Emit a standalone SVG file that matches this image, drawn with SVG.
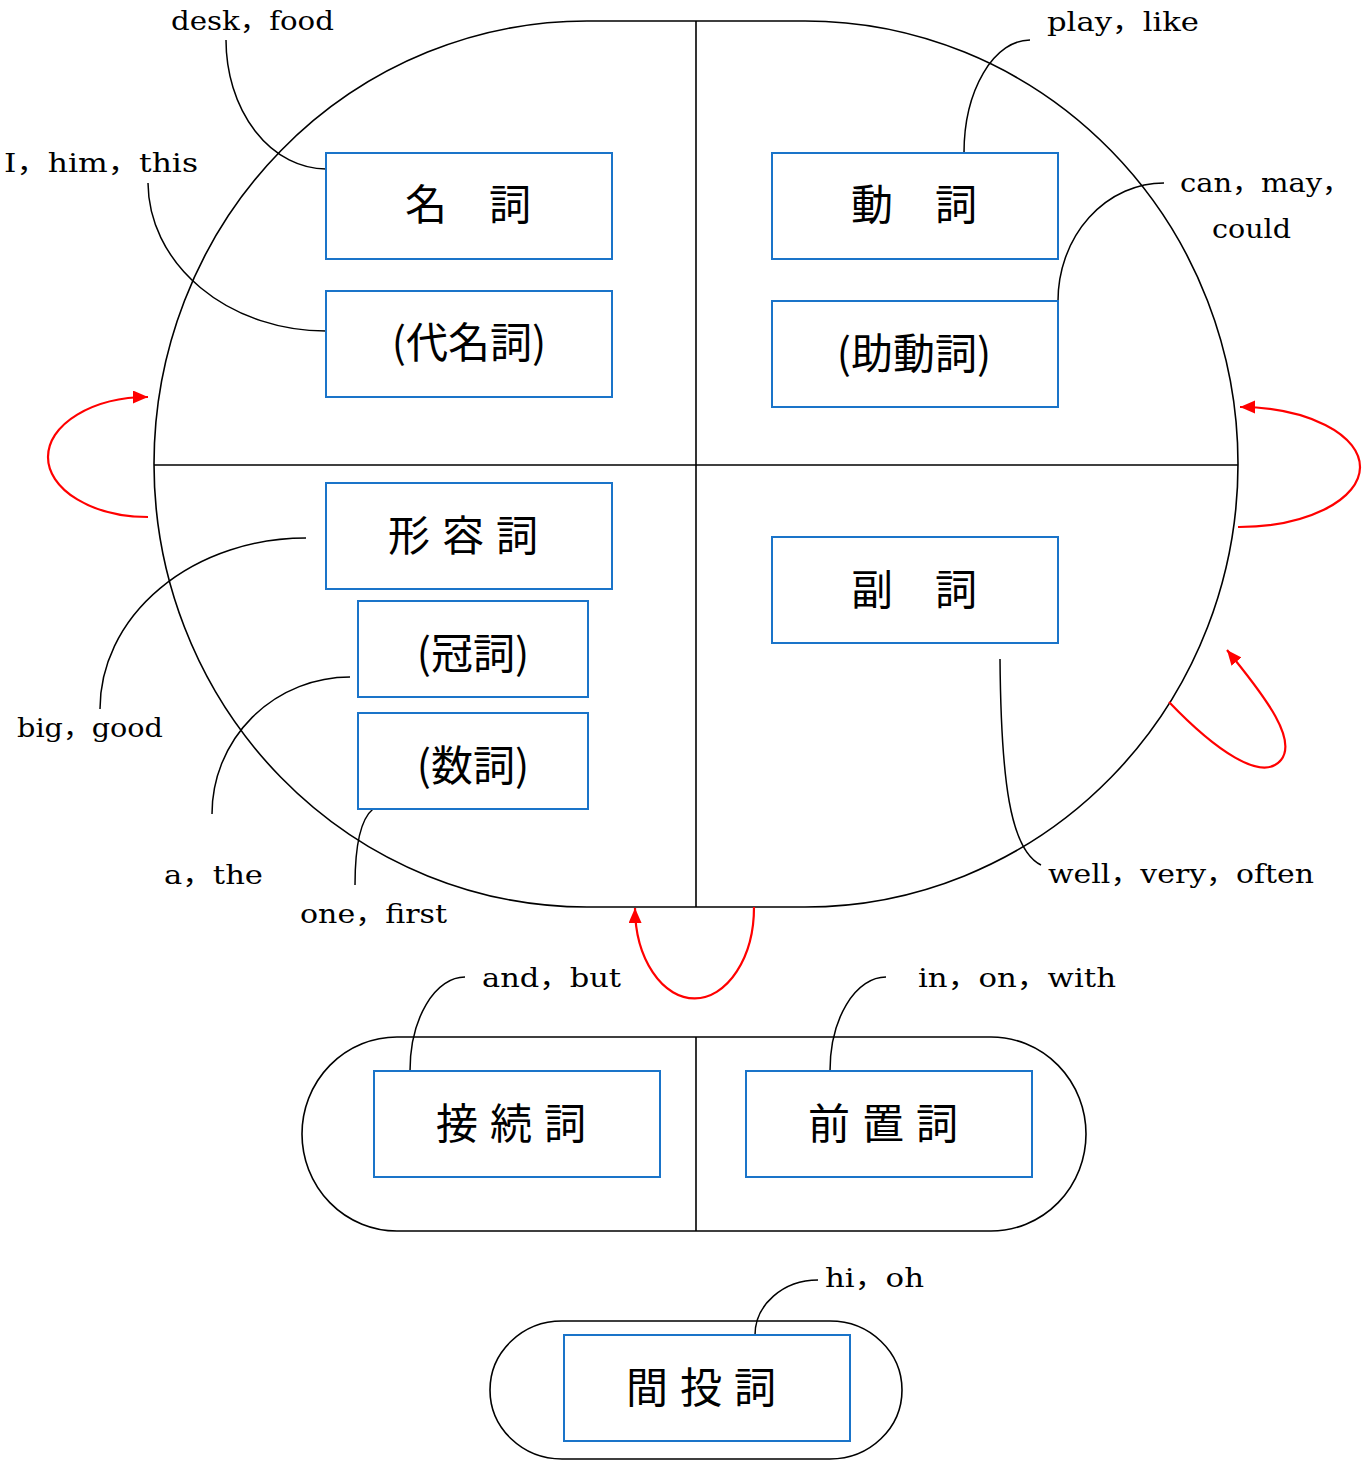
<svg xmlns="http://www.w3.org/2000/svg" width="1363" height="1460" viewBox="0 0 1363 1460">
<style>
.frame{fill:#fff;stroke:#000;stroke-width:1.6}
.div{stroke:#000;stroke-width:1.6}
.box{fill:#fff;stroke:#1a74c9;stroke-width:2}
.jp{font-family:"Noto Sans CJK JP","Noto Sans CJK SC",sans-serif;font-size:42px;fill:#000;text-anchor:middle}
.sp{letter-spacing:12px}
.lbl{font-family:"DejaVu Serif","Noto Sans CJK JP",serif;font-size:26px;fill:#000}
.con{fill:none;stroke:#000;stroke-width:1.5}
.red{fill:none;stroke:#f00;stroke-width:2.2}
</style>
<defs>
<marker id="ah" markerUnits="userSpaceOnUse" markerWidth="16" markerHeight="14" refX="15" refY="6.5" orient="auto">
<path d="M0,0 L15,6.5 L0,13 z" fill="#f00"/>
</marker>
</defs>
<g id="frames">
<rect class="frame" x="154" y="21" width="1084" height="886" rx="433" ry="443"/>
<line class="div" x1="154" y1="465" x2="1238" y2="465"/>
<line class="div" x1="696" y1="21" x2="696" y2="907"/>
<rect class="frame" x="302" y="1037" width="784" height="194" rx="95" ry="97"/>
<line class="div" x1="696" y1="1037" x2="696" y2="1231"/>
<rect class="frame" x="490" y="1321" width="412" height="138" rx="72" ry="69"/>
</g>
<g id="connectors">
<path class="con" d="M226,40 A100,129 0 0 0 326,169"/>
<path class="con" d="M148,183 A178,149 0 0 0 326,331"/>
<path class="con" d="M964,153 A66,113 0 0 1 1030,40"/>
<path class="con" d="M1058,301 A106,118 0 0 1 1164,183"/>
<path class="con" d="M306,538 A206,171 0 0 0 100,709"/>
<path class="con" d="M350,677 A138,137 0 0 0 212,814"/>
<path class="con" d="M373,809 C362,818 355,840 355,885"/>
<path class="con" d="M1000,659 C1001,780 1010,850 1041,865"/>
<path class="con" d="M410,1071 A55,94 0 0 1 465,977"/>
<path class="con" d="M830,1071 A56,94 0 0 1 886,977"/>
<path class="con" d="M755,1335 A63,55 0 0 1 818,1280"/>
<path class="red" marker-end="url(#ah)" d="M148,517 A100,60 0 1 1 148,397"/>
<path class="red" marker-end="url(#ah)" d="M1238,527 A121,60 0 1 0 1240,407"/>
<path class="red" marker-end="url(#ah)" d="M754,907 A59.5,91 0 0 1 635,908"/>
<path class="red" marker-end="url(#ah)" d="M1169,702 C1215,750 1262,783 1281,760 C1297,740 1268,700 1227,650"/>
</g>
<g id="n-meishi"><rect class="box" x="326" y="153" width="286" height="106"/><text class="jp" x="468" y="220">名　詞</text></g>
<g id="n-daimeishi"><rect class="box" x="326" y="291" width="286" height="106"/><text class="jp" x="469" y="358">(代名詞)</text></g>
<g id="n-doushi"><rect class="box" x="772" y="153" width="286" height="106"/><text class="jp" x="914" y="220">動　詞</text></g>
<g id="n-jodoushi"><rect class="box" x="772" y="301" width="286" height="106"/><text class="jp" x="914" y="369">(助動詞)</text></g>
<g id="n-keiyoushi"><rect class="box" x="326" y="483" width="286" height="106"/><text class="jp sp" x="469" y="551">形容詞</text></g>
<g id="n-kanshi"><rect class="box" x="358" y="601" width="230" height="96"/><text class="jp" x="473" y="669">(冠詞)</text></g>
<g id="n-suushi"><rect class="box" x="358" y="713" width="230" height="96"/><text class="jp" x="473" y="781">(数詞)</text></g>
<g id="n-fukushi"><rect class="box" x="772" y="537" width="286" height="106"/><text class="jp" x="914" y="605">副　詞</text></g>
<g id="n-setsuzokushi"><rect class="box" x="374" y="1071" width="286" height="106"/><text class="jp sp" x="517" y="1139">接続詞</text></g>
<g id="n-zenchishi"><rect class="box" x="746" y="1071" width="286" height="106"/><text class="jp sp" x="889" y="1139">前置詞</text></g>
<g id="n-kantoushi"><rect class="box" x="564" y="1335" width="286" height="106"/><text class="jp sp" x="707" y="1403">間投詞</text></g>
<g id="labels">
<text class="lbl" x="171" y="30" textLength="163" lengthAdjust="spacingAndGlyphs">desk，food</text>
<text class="lbl" x="4" y="172" textLength="194" lengthAdjust="spacingAndGlyphs">I，him，this</text>
<text class="lbl" x="1047" y="31" textLength="152" lengthAdjust="spacingAndGlyphs">play，like</text>
<text class="lbl" x="1180" y="192" textLength="171" lengthAdjust="spacingAndGlyphs">can，may，</text>
<text class="lbl" x="1212" y="238" textLength="79" lengthAdjust="spacingAndGlyphs">could</text>
<text class="lbl" x="17" y="737" textLength="146" lengthAdjust="spacingAndGlyphs">big，good</text>
<text class="lbl" x="164" y="884" textLength="99" lengthAdjust="spacingAndGlyphs">a，the</text>
<text class="lbl" x="300" y="923" textLength="147" lengthAdjust="spacingAndGlyphs">one，first</text>
<text class="lbl" x="1048" y="883" textLength="266" lengthAdjust="spacingAndGlyphs">well，very，often</text>
<text class="lbl" x="918" y="987" textLength="198" lengthAdjust="spacingAndGlyphs">in，on，with</text>
<text class="lbl" x="482" y="987" textLength="139" lengthAdjust="spacingAndGlyphs">and，but</text>
<text class="lbl" x="825" y="1287" textLength="99" lengthAdjust="spacingAndGlyphs">hi，oh</text>
</g>
</svg>
